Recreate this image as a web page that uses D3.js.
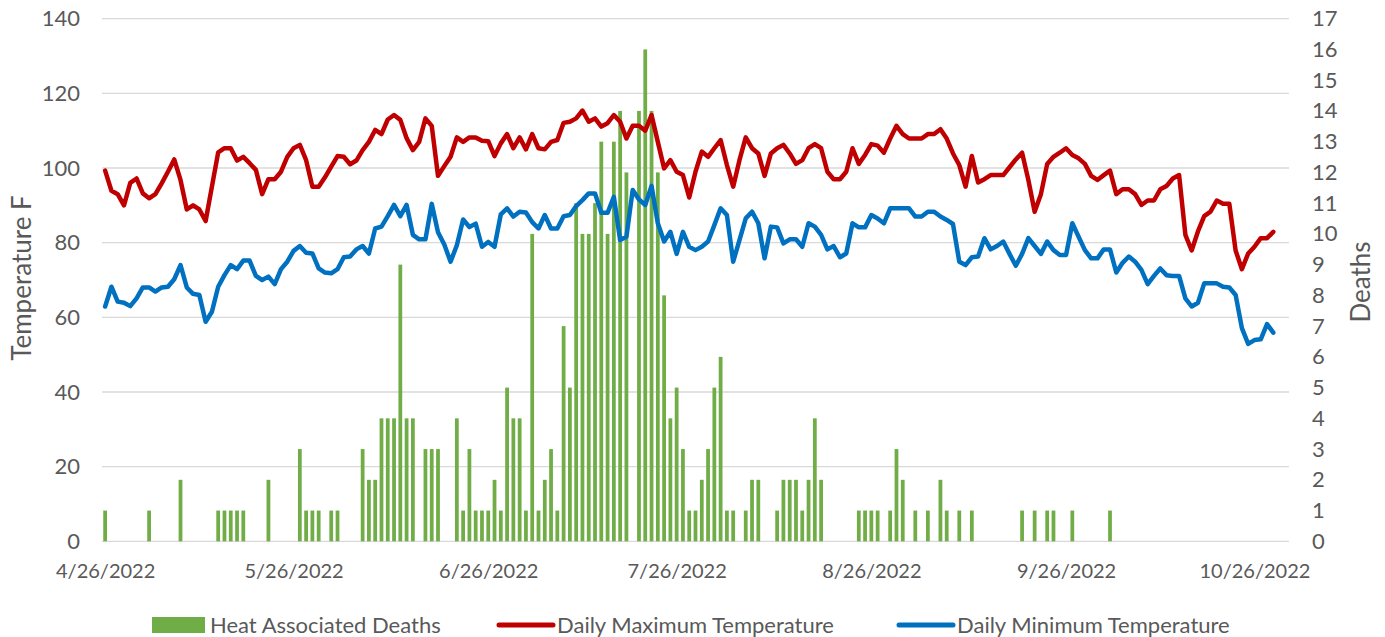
<!DOCTYPE html>
<html>
<head>
<meta charset="utf-8">
<script src="https://cdn.jsdelivr.net/npm/d3@7"></script>
<style>
body { margin: 0; background: #fff; }
text { font-family: Lato, "Open Sans", sans-serif; fill: #595959; }
</style>
</head>
<body>
<svg id="chart"></svg>
<script>
// daily series, starting 4/26/2022
var firstDay = "2022-04-26";

var deaths = [
	1,0,0,0,0,0,0,1,0,0,
	0,0,2,0,0,0,0,0,1,1,
	1,1,1,0,0,0,2,0,0,0,
	0,3,1,1,1,0,1,1,0,0,
	0,3,2,2,4,4,4,9,4,4,
	0,3,3,3,0,0,4,1,3,1,
	1,1,2,1,5,4,4,1,10,1,
	2,3,1,7,5,11,10,10,11,13,
	10,13,14,12,0,14,16,14,12,8,
	4,5,3,1,1,2,3,5,6,1,
	1,0,1,2,2,0,0,1,2,2,
	2,1,2,4,2,0,0,0,0,0,
	1,1,1,1,0,1,3,2,0,1,
	0,1,0,2,1,0,1,0,1,0,
	0,0,0,0,0,0,1,0,1,0,
	1,1,0,0,1,0,0,0,0,0,
	1,0,0,0,0,0,0,0,0,0,
	0,0,0,0,0,0,0,0,0,0,
	0,0,0,0,0,0,0
];

var maxTemp = [
	99.3,93.9,93,90,96,97.2,93.2,91.9,93,95.9,
	99,102.3,96.8,88.9,90,88.9,85.8,95,104.2,105.3,
	105.3,102,103,101.3,99.5,93,97,97,99,103,
	105.3,106.2,102.1,95,95,97.5,100.4,103.2,103,101,
	102,104.8,107,110.2,109.1,113,114.2,112.9,108,104.8,
	107,113.3,111.3,97.9,100.5,103,108.2,107,108.2,108.2,
	107.3,107.2,103.2,106.6,109.1,105.3,108.2,105,109.1,105.3,
	105,107,107.5,112.1,112.4,113.3,115.4,112.4,113.3,111.1,
	112,114.2,112.4,107.9,111.3,111.3,110,114.2,107,99.9,
	102.1,99,98.1,92.1,99,104.4,103,105.3,107.5,100.8,
	95,102.1,108.2,105.3,103.9,97.9,103.9,105.3,106.2,103.9,
	101.1,102.1,105.3,106.4,105.3,99,97,97,99,105.3,
	101.1,103.5,106.4,106,104.1,107.9,111.3,109.1,107.9,107.9,
	107.9,109.1,109.1,110.4,107.9,103.9,100.8,95,103.2,96.1,
	97,98.1,98.1,98.1,100.2,102.3,104.1,96.8,88.3,93,
	101.1,103,104.1,105.3,103.5,102.6,101.1,97.9,96.8,98.1,
	99.3,93,94.3,94.3,93,90.1,91.3,91.3,94.3,95.2,
	97.2,98.1,82.1,77.9,83,87.1,88.3,91.3,90.4,90.4,
	77.9,72.9,77.1,78.9,81.2,81.2,82.9
];

var minTemp = [
	62.9,68.2,64.2,63.9,63,65.1,68,68,66.9,68,
	68.2,70.2,74,68,66.3,66,58.8,61.5,68.2,71.3,
	74,72.9,75.2,75.2,71.1,70,70.9,68.9,72.9,74.9,
	77.8,79.1,77.3,77.1,73.1,72,71.8,72.9,76.1,76.3,
	78.2,79.1,77.1,83.8,84.3,87.1,90.1,87.1,90.1,82.1,
	80.9,80.9,90.4,82.8,79.5,74.9,79.3,86.2,84.2,85.1,
	78.9,80.2,78.9,87.6,89.2,87,88.3,88.1,85.5,83.8,
	87.4,83.8,83.8,87.1,87.4,89.8,91.4,93.2,93.2,88,
	88,92.3,80.7,81.6,94.1,91.6,90.1,95.2,85.2,80.3,
	82.9,77,82.9,78.9,78,78.9,80.3,84.7,89.2,87.4,
	74.9,80.7,86.5,88.3,85.2,75.8,84.3,84.1,79.8,80.9,
	80.9,78.9,85.2,84.3,82.1,78.2,79.1,76.1,77.1,85.2,
	84.1,84.1,87.4,86.5,85.2,89.2,89.2,89.2,89.2,87,
	87,88.3,88.3,87,86.1,85,74.9,74,76.1,76.3,
	81.2,78.2,79.1,80.3,77,73.8,77,81.2,79.1,77,
	80.3,78,76.7,76.7,85.2,81.6,78,75.8,75.8,78.2,
	78.2,72,74.6,76.3,74.9,72.7,68.9,71.1,73.1,71.3,
	71.1,71.1,65.1,62.9,63.9,69.1,69.1,69.1,68.2,68,
	66,57.1,52.9,53.9,54.1,58.2,55.9
];

var tempTicks = [0, 20, 40, 60, 80, 100, 120, 140];
var deathTicks = [0, 1, 2, 3, 4, 5, 6, 7, 8, 9, 10, 11, 12, 13, 14, 15, 16, 17];
var dateTicks = ["2022-04-26", "2022-05-26", "2022-06-26", "2022-07-26", "2022-08-26", "2022-09-26", "2022-10-26"];
var legendNames = ["Heat Associated Deaths", "Daily Maximum Temperature", "Daily Minimum Temperature"];

var width = 1385,
	height = 637;
var plotLeft = 102, plotRight = 1289, plotTop = 18.7, plotBottom = 541.3;

var parse = d3.utcParse("%Y-%m-%d");
var start = parse(firstDay);
var days = deaths.map(function(d, i) { return d3.utcDay.offset(start, i); });

var svg = d3.select("#chart").attr("width", width).attr("height", height);

// axis runs half a day before 4/26 to half a day past 10/31
var x = d3.scaleUtc()
	.domain([d3.utcHour.offset(start, -12), d3.utcHour.offset(d3.utcDay.offset(start, 188), 12)])
	.range([plotLeft, plotRight]);
var y = d3.scaleLinear().domain([0, 140]).range([plotBottom, plotTop]);
var y2 = d3.scaleLinear().domain([0, 17]).range([plotBottom, plotTop]);

var dayWidth = x(d3.utcDay.offset(start, 1)) - x(start);
var barWidth = dayWidth * 0.6;

//gridlines
svg.append("g").selectAll("line").data(tempTicks).enter().append("line")
	.attr("x1", plotLeft).attr("x2", plotRight)
	.attr("y1", function(d) { return y(d); }).attr("y2", function(d) { return y(d); })
	.attr("stroke", "#d9d9d9").attr("stroke-width", 1.3);

//bars
svg.append("g").selectAll("rect").data(deaths).enter().append("rect")
	.attr("x", function(d, i) { return x(days[i]) - barWidth / 2; })
	.attr("y", function(d) { return y2(d); })
	.attr("width", barWidth)
	.attr("height", function(d) { return plotBottom - y2(d); })
	.attr("fill", "#70ad47");

//lines
var tempLine = d3.line().x(function(d, i) { return x(days[i]); }).y(function(d) { return y(d); });
svg.append("path").datum(maxTemp).attr("d", tempLine)
	.attr("fill", "none").attr("stroke", "#c00000").attr("stroke-width", 4.5)
	.attr("stroke-linejoin", "round").attr("stroke-linecap", "round");
svg.append("path").datum(minTemp).attr("d", tempLine)
	.attr("fill", "none").attr("stroke", "#0070c0").attr("stroke-width", 4.5)
	.attr("stroke-linejoin", "round").attr("stroke-linecap", "round");

//axes
var gLeft = svg.append("g").attr("transform", "translate(" + plotLeft + ",0)")
	.call(d3.axisLeft(y).tickValues(tempTicks).tickSize(0).tickPadding(22));
var gRight = svg.append("g").attr("transform", "translate(" + plotRight + ",0)")
	.call(d3.axisRight(y2).tickValues(deathTicks).tickSize(0).tickPadding(23));
var gBottom = svg.append("g").attr("transform", "translate(0," + plotBottom + ")")
	.call(d3.axisBottom(x).tickValues(dateTicks.map(parse)).tickFormat(d3.utcFormat("%-m/%-d/%Y")).tickSize(0).tickPadding(23));
[gLeft, gRight, gBottom].forEach(function(g) {
	g.select(".domain").remove();
	g.selectAll("text").style("font-size", "22px").style("font-family", "Lato").attr("fill", "#595959");
});
gBottom.selectAll("text").style("font-size", "20px");

svg.append("text").text("Temperature F")
	.attr("transform", "translate(31,278) rotate(-90)")
	.attr("text-anchor", "middle").style("font-size", "26px");
svg.append("text").text("Deaths")
	.attr("transform", "translate(1370,282) rotate(-90)")
	.attr("text-anchor", "middle").style("font-size", "26px");

//legend
var legendY = 625;
var lg = svg.append("g");
lg.append("rect").attr("x", 152).attr("y", legendY - 8).attr("width", 53).attr("height", 16).attr("fill", "#70ad47");
lg.append("text").text(legendNames[0]).attr("x", 210).attr("y", legendY).attr("dy", "0.35em").style("font-size", "22px");
lg.append("line").attr("x1", 499).attr("x2", 553).attr("y1", legendY).attr("y2", legendY)
	.attr("stroke", "#c00000").attr("stroke-width", 5).attr("stroke-linecap", "round");
lg.append("text").text(legendNames[1]).attr("x", 557).attr("y", legendY).attr("dy", "0.35em").style("font-size", "22px");
lg.append("line").attr("x1", 899).attr("x2", 953).attr("y1", legendY).attr("y2", legendY)
	.attr("stroke", "#0070c0").attr("stroke-width", 5).attr("stroke-linecap", "round");
lg.append("text").text(legendNames[2]).attr("x", 957).attr("y", legendY).attr("dy", "0.35em").style("font-size", "22px");
</script>
</body>
</html>
